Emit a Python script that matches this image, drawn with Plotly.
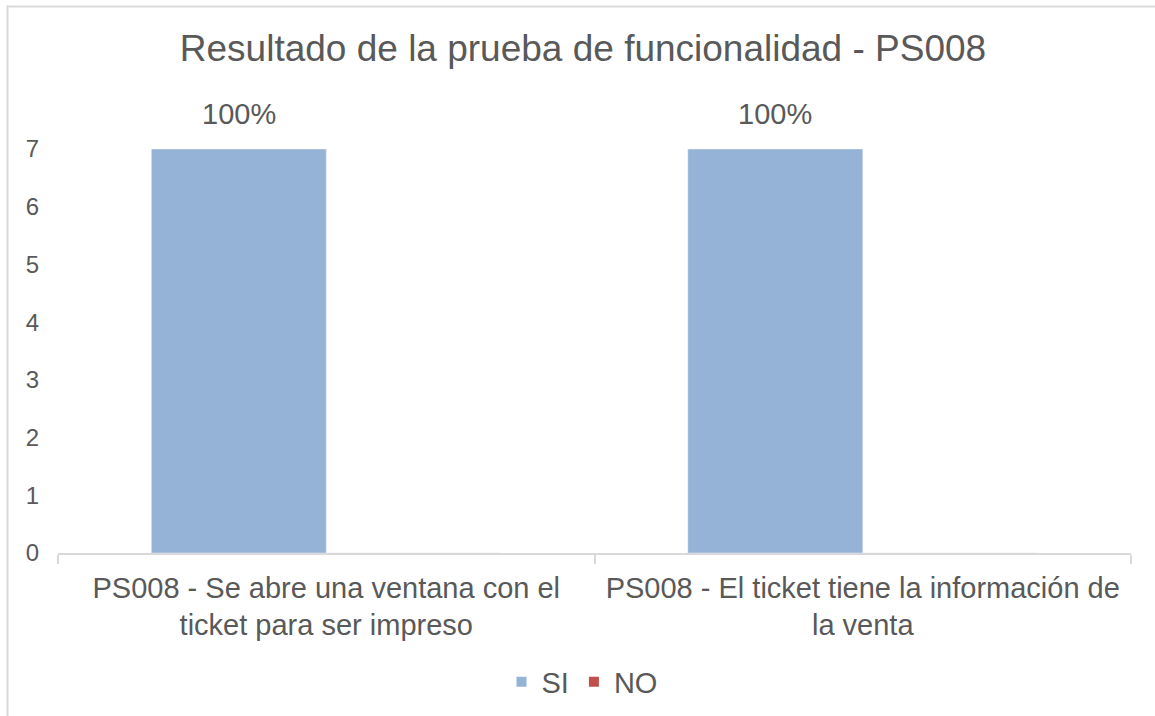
import plotly.graph_objects as go

categories = ["PS008 - Se abre una ventana con el<br>ticket para ser impreso",
              "PS008 - El ticket tiene la información de<br>la venta"]
si_values = [7, 7]
no_values = [0, 0]
si_labels = ["100%", "100%"]
y_ticks = [0, 1, 2, 3, 4, 5, 6, 7]

FONT = "Liberation Sans, Arial, sans-serif"
GRAY = "#595959"
SI_COLOR = "#95B3D7"
NO_COLOR = "#C0504D"

L, R, T, B = 58, 1131, 149, 553
W, H = 1155, 716
pw = R - L
ph = B - T
BARGAP = 0.348

fig = go.Figure()
fig.add_trace(go.Bar(x=categories, y=si_values, name="SI", marker_color=SI_COLOR,
                     showlegend=False))
fig.add_trace(go.Bar(x=categories, y=no_values, name="NO", marker_color=NO_COLOR,
                     showlegend=False))
# legend entries
fig.add_trace(go.Scatter(x=[None], y=[None], mode="markers", name="SI",
                         marker=dict(symbol="square", size=10, color=SI_COLOR)))
fig.add_trace(go.Scatter(x=[None], y=[None], mode="markers", name="NO",
                         marker=dict(symbol="square", size=10, color=NO_COLOR)))

# data labels centred over the SI bars (first of two bars in each group)
cat_px = pw / len(categories)
bar_offset_px = -(1 - BARGAP) * cat_px / 4
annotations = [dict(x=c, y=v, text=t, xref="x", yref="y", showarrow=False,
                    xanchor="center", yanchor="bottom", xshift=bar_offset_px, yshift=17,
                    font=dict(size=29, color=GRAY, family=FONT))
               for c, v, t in zip(categories, si_values, si_labels)]

fig.update_layout(
    width=W, height=H,
    margin=dict(l=L, r=W - R, t=T, b=H - B),
    paper_bgcolor="white", plot_bgcolor="white",
    font=dict(family=FONT, color=GRAY),
    barmode="group", bargap=BARGAP, bargroupgap=0,
    title=dict(text="Resultado de la prueba de funcionalidad - PS008",
               font=dict(size=37, color=GRAY, family=FONT),
               x=583 / W, xanchor="center", y=1 - 48 / H, yanchor="middle",
               xref="container", yref="container"),
    legend=dict(orientation="h", x=582 / W, xanchor="center",
                y=1 - 682 / H, yanchor="middle", xref="container", yref="container",
                font=dict(size=29, color=GRAY, family=FONT),
                itemwidth=30, tracegroupgap=0),
    xaxis=dict(showline=True, linecolor="#D9D9D9", linewidth=1.5,
               ticks="outside", tickson="boundaries", ticklen=9, tickcolor="#D9D9D9",
               tickwidth=1.5, tickfont=dict(size=29, color=GRAY, family=FONT),
               ticklabelstandoff=8, showgrid=False, fixedrange=True),
    yaxis=dict(range=[0, 7], tickvals=y_ticks, showgrid=False, zeroline=False,
               showline=False, ticks="", ticklabelstandoff=18,
               tickfont=dict(size=24, color=GRAY, family=FONT), fixedrange=True),
    annotations=annotations,
    shapes=[dict(type="rect", xref="paper", yref="paper",
                 x0=(7.5 - L) / pw, x1=(1175 - L) / pw,
                 y0=(B - 740) / ph, y1=(B - 6.5) / ph,
                 line=dict(color="#D9D9D9", width=2), fillcolor="rgba(0,0,0,0)",
                 layer="below")],
)

fig.write_html("out.html", config={"displayModeBar": False},
               post_script="document.body.style.margin='0';")
